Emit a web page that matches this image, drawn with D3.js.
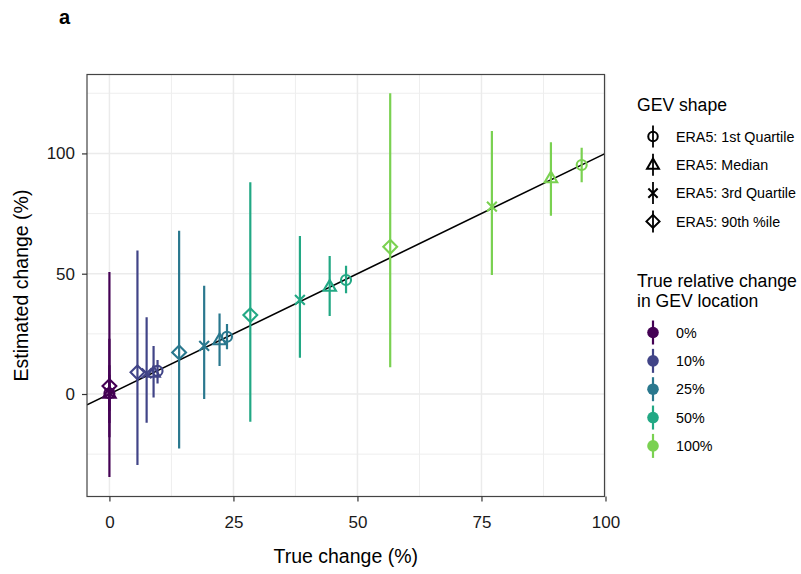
<!DOCTYPE html>
<html>
<head>
<meta charset="utf-8">
<script src="https://cdn.jsdelivr.net/npm/d3@7"></script>
<style>
  body { margin: 0; background: #fff; }
  svg { display: block; font-family: "Liberation Sans", Arial, Helvetica, sans-serif; }
</style>
</head>
<body>
<svg id="chart" width="801" height="574"></svg>
<script>
// ---- data ----
const levels = ["0%", "10%", "25%", "50%", "100%"];
const shapes = ["ERA5: 1st Quartile", "ERA5: Median", "ERA5: 3rd Quartile", "ERA5: 90th %ile"];
const shapeKeys = ["circle", "triangle", "cross", "diamond"];

// per level: values for [1st Quartile, Median, 3rd Quartile, 90th %ile]
const trueChange = [
  [0, 0, 0, 0],
  [9.7, 8.9, 7.5, 5.65],
  [23.7, 22.2, 19.1, 14.05],
  [47.7, 44.4, 38.4, 28.4],
  [95.2, 89.0, 77.1, 56.6]
];
const estChange = [
  [0.3, 0.2, 0.5, 3.3],
  [9.6, 8.9, 8.6, 9.0],
  [23.8, 22.4, 20.0, 17.3],
  [47.4, 44.6, 39.1, 32.8],
  [95.2, 89.7, 77.9, 61.2]
];
const estLower = [
  [-7, -12, -18, -34.5],
  [4.4, -1.5, -11.9, -29.5],
  [18.6, 11.6, -2.1, -22.6],
  [41.9, 32.4, 15.1, -11.5],
  [88.0, 74.1, 49.5, 11.1]
];
const estUpper = [
  [8, 12, 23, 50.7],
  [14.1, 20.0, 31.9, 59.6],
  [29.1, 33.5, 45.0, 67.9],
  [53.3, 57.4, 65.7, 88.0],
  [102.4, 104.6, 109.3, 125.0]
];
const xTicks = [0, 25, 50, 75, 100];
const yTicks = [0, 50, 100];
const xMinor = [12.5, 37.5, 62.5, 87.5];
const yMinor = [-25, 25, 75, 125];

// build rows
const rows = [];
levels.forEach((lv, i) => {
  shapes.forEach((sh, j) => {
    rows.push({level: i, shape: j, x: trueChange[i][j], y: estChange[i][j], lo: estLower[i][j], hi: estUpper[i][j]});
  });
});

const colors = levels.map((d, i) => d3.interpolateViridis(i * 0.2));

// ---- layout ----
const svg = d3.select("#chart");
const P = {left: 87, right: 604.5, top: 74.5, bottom: 496.5};
const x = d3.scaleLinear().domain([-4.52, 99.8]).range([P.left, P.right]);
const y = d3.scaleLinear().domain([-42.6, 132.8]).range([P.bottom, P.top]);

// panel background
svg.append("rect").attr("x", P.left).attr("y", P.top)
  .attr("width", P.right - P.left).attr("height", P.bottom - P.top).attr("fill", "#fff");

const grid = svg.append("g");
xMinor.forEach(v => grid.append("line").attr("x1", x(v)).attr("x2", x(v)).attr("y1", P.top).attr("y2", P.bottom)
  .attr("stroke", "#eeeeee").attr("stroke-width", 1));
yMinor.forEach(v => grid.append("line").attr("y1", y(v)).attr("y2", y(v)).attr("x1", P.left).attr("x2", P.right)
  .attr("stroke", "#eeeeee").attr("stroke-width", 1));
xTicks.forEach(v => grid.append("line").attr("x1", x(v)).attr("x2", x(v)).attr("y1", P.top).attr("y2", P.bottom)
  .attr("stroke", "#ebebeb").attr("stroke-width", 1.5));
yTicks.forEach(v => grid.append("line").attr("y1", y(v)).attr("y2", y(v)).attr("x1", P.left).attr("x2", P.right)
  .attr("stroke", "#ebebeb").attr("stroke-width", 1.5));

// clip
svg.append("clipPath").attr("id", "clip").append("rect")
  .attr("x", P.left).attr("y", P.top).attr("width", P.right - P.left).attr("height", P.bottom - P.top);

const plot = svg.append("g").attr("clip-path", "url(#clip)");

// y = x line
const dom = x.domain();
plot.append("line")
  .attr("x1", x(dom[0])).attr("y1", y(dom[0]))
  .attr("x2", x(dom[1])).attr("y2", y(dom[1]))
  .attr("stroke", "#000").attr("stroke-width", 1.6);

// marker drawing
function drawShape(g, kind, cx, cy, color, s, sw) {
  if (kind === "circle") {
    g.append("circle").attr("cx", cx).attr("cy", cy).attr("r", 5 * s)
      .attr("fill", "none").attr("stroke", color).attr("stroke-width", sw);
  } else if (kind === "triangle") {
    const r = 6.6 * s;
    const pts = [[cx, cy - r], [cx + r * 0.95, cy + r * 0.62], [cx - r * 0.95, cy + r * 0.62]];
    g.append("polygon").attr("points", pts.map(p => p.join(",")).join(" "))
      .attr("fill", "none").attr("stroke", color).attr("stroke-width", sw).attr("stroke-linejoin", "miter");
  } else if (kind === "cross") {
    const r = 4.9 * s;
    g.append("path").attr("d", `M${cx - r},${cy - r}L${cx + r},${cy + r}M${cx - r},${cy + r}L${cx + r},${cy - r}`)
      .attr("stroke", color).attr("stroke-width", sw).attr("fill", "none");
  } else if (kind === "diamond") {
    const r = 6.9 * s;
    g.append("path").attr("d", `M${cx},${cy - r}L${cx + r},${cy}L${cx},${cy + r}L${cx - r},${cy}Z`)
      .attr("stroke", color).attr("stroke-width", sw).attr("fill", "none");
  }
}

// pointranges
rows.forEach(d => {
  const g = plot.append("g");
  g.append("line").attr("x1", x(d.x)).attr("x2", x(d.x)).attr("y1", y(d.lo)).attr("y2", y(d.hi))
    .attr("stroke", colors[d.level]).attr("stroke-width", 2.2);
  drawShape(g, shapeKeys[d.shape], x(d.x), y(d.y), colors[d.level], 1, 2.1);
});

// panel border
svg.append("rect").attr("x", P.left).attr("y", P.top)
  .attr("width", P.right - P.left).attr("height", P.bottom - P.top)
  .attr("fill", "none").attr("stroke", "#444").attr("stroke-width", 1.2);

// axes
const xAxis = svg.append("g").attr("transform", `translate(0,${P.bottom})`)
  .call(d3.axisBottom(x).tickValues(xTicks).tickSize(5).tickPadding(14).tickFormat(d3.format("d")));
const yAxis = svg.append("g").attr("transform", `translate(${P.left},0)`)
  .call(d3.axisLeft(y).tickValues(yTicks).tickSize(5).tickPadding(7).tickFormat(d3.format("d")));
[xAxis, yAxis].forEach(a => {
  a.select(".domain").remove();
  a.selectAll(".tick line").attr("stroke", "#333").attr("stroke-width", 1.2);
  a.selectAll(".tick text").attr("fill", "#1a1a1a").style("font-size", "17px")
    .style("font-family", "'Liberation Sans', Arial, sans-serif");
});

// axis titles
svg.append("text").attr("x", (P.left + P.right) / 2).attr("y", 563)
  .attr("text-anchor", "middle").style("font-size", "19.5px").attr("fill", "#000").text("True change (%)");
svg.append("text").attr("transform", `translate(28,${(P.top + P.bottom) / 2}) rotate(-90)`)
  .attr("text-anchor", "middle").style("font-size", "19.5px").attr("fill", "#000").text("Estimated change (%)");

// panel tag
svg.append("text").attr("x", 59).attr("y", 24).style("font-size", "20px").style("font-weight", "bold")
  .attr("fill", "#000").text("a");

// legend 1: shapes
const L1 = svg.append("g");
L1.append("text").attr("x", 637).attr("y", 111).style("font-size", "17.6px").attr("fill", "#000").text("GEV shape");
shapes.forEach((s, i) => {
  const cy = 136.5 + i * 28.3;
  L1.append("line").attr("x1", 653).attr("x2", 653).attr("y1", cy - 11).attr("y2", cy + 11)
    .attr("stroke", "#000").attr("stroke-width", 1.8);
  drawShape(L1, shapeKeys[i], 653, cy, "#000", 0.95, 2);
  L1.append("text").attr("x", 676).attr("y", cy).attr("dy", "0.36em").style("font-size", "14.3px")
    .attr("fill", "#000").text(s);
});

// legend 2: colours
const L2 = svg.append("g");
L2.append("text").attr("x", 637).attr("y", 287).style("font-size", "17.6px").attr("fill", "#000").text("True relative change");
L2.append("text").attr("x", 637).attr("y", 307).style("font-size", "17.6px").attr("fill", "#000").text("in GEV location");
levels.forEach((lv, i) => {
  const cy = 332.5 + i * 28.35;
  L2.append("line").attr("x1", 653).attr("x2", 653).attr("y1", cy - 12).attr("y2", cy + 12)
    .attr("stroke", colors[i]).attr("stroke-width", 2.2);
  L2.append("circle").attr("cx", 653).attr("cy", cy).attr("r", 5.8).attr("fill", colors[i]);
  L2.append("text").attr("x", 676).attr("y", cy).attr("dy", "0.36em").style("font-size", "14.3px")
    .attr("fill", "#000").text(lv);
});
</script>
</body>
</html>
